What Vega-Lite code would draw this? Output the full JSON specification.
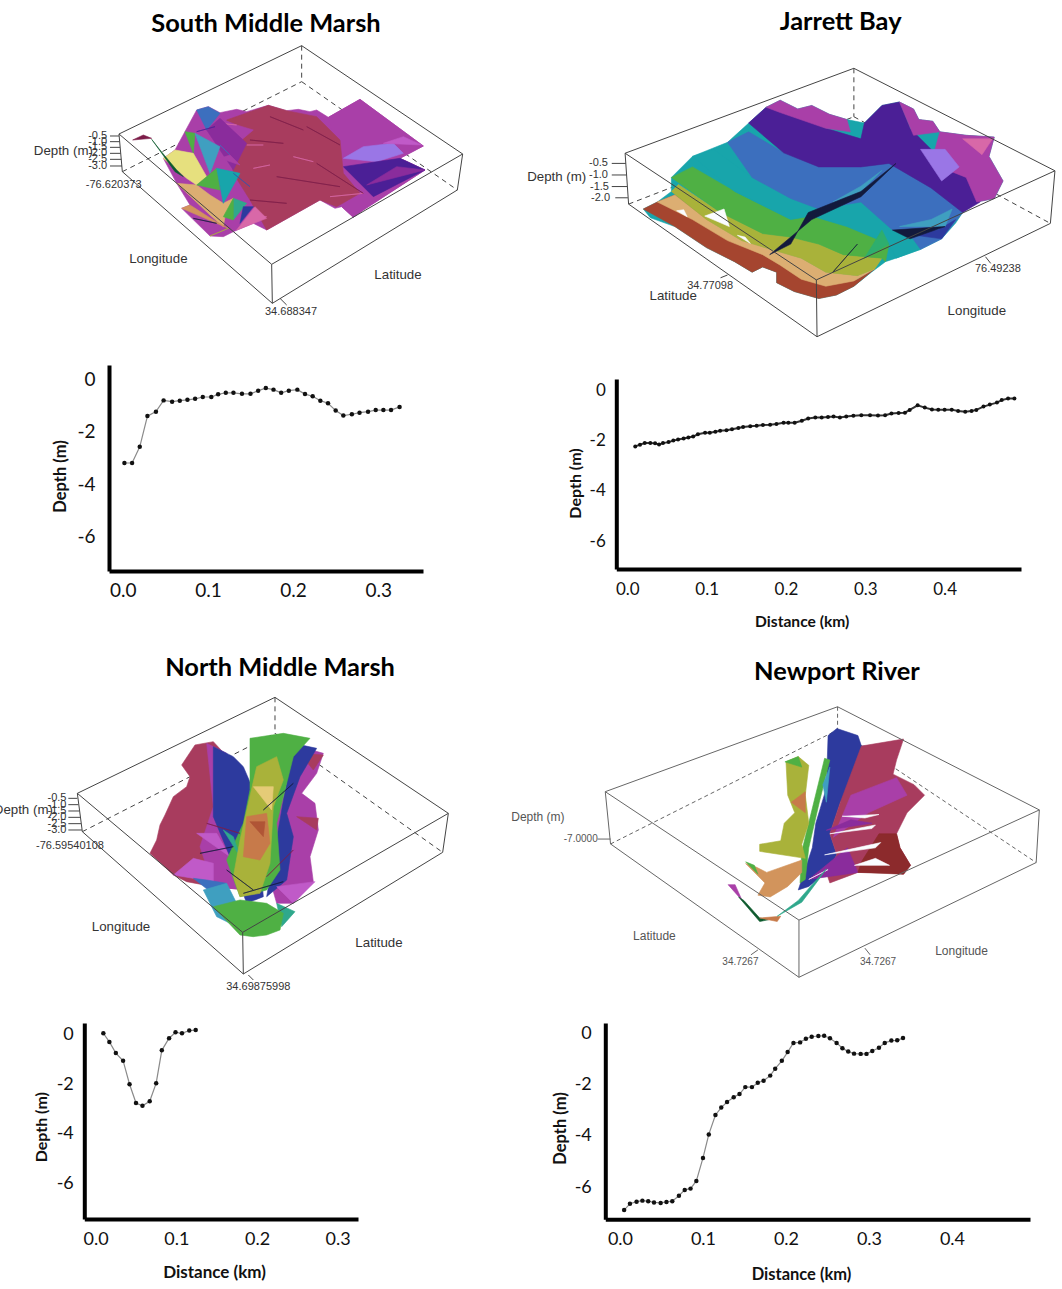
{
"$schema":"https://vega.github.io/schema/vega-lite/v6.json",
"padding":0,"background":"white","spacing":0,"bounds":"flush","columns":2,
"config":{"view":{"stroke":null},"axis":{"grid":false,"ticks":false,"domainColor":"black","labelColor":"#111","labelFont":"Lato","titleFont":"Lato","titleFontWeight":"bold","titleColor":"#111","titleBaseline":"middle","labelExpr":"replace(datum.label,'\u2212','-')"},"text":{"font":"Liberation Sans","color":"#333"}},
"concat":[
{"width":505,"height":345,"layer":[
{"data":{"values":[{"g":{"type":"MultiLineString","coordinates":[[[845,47],[845,155]],[[307,425],[845,155]],[[845,155],[1312,480]]]}}]},"mark":{"type":"geoshape","filled":false,"stroke":"#444","strokeWidth":1,"strokeDash":[5,4]},"projection":{"type":"identity","scale":0.33333,"translate":[20,30],"coefficient":1},"encoding":{"shape":{"field":"g","type":"geojson"}}},
{"data":{"values":[
{"d":13,"g":{"type":"Polygon","coordinates":[[[530,240],[565,230],[600,248],[650,238],[680,245],[745,226],[800,242],[835,238],[870,245],[890,240],[925,262],[1020,208],[1210,348],[1140,385],[1215,420],[1030,540],[1000,562],[965,530],[945,535],[900,510],[740,600],[700,580],[640,605],[610,620],[570,618],[485,535],[510,525],[470,460],[430,385],[465,360],[495,300]]]}},
{"d":13,"g":{"type":"Polygon","coordinates":[[[925,262],[1020,208],[1210,348],[1140,385],[1215,420],[1030,540],[1000,562],[965,530],[1000,480],[960,400],[930,300]]]}},
{"d":15,"g":{"type":"Polygon","coordinates":[[[970,385],[1030,350],[1120,340],[1150,370],[1070,395],[990,410]]]}},
{"d":14,"g":{"type":"Polygon","coordinates":[[[1090,340],[1150,320],[1205,345],[1140,375]]]}},
{"d":11,"g":{"type":"Polygon","coordinates":[[[970,410],[1140,385],[1215,420],[1060,500],[1010,470]]]}},
{"d":12,"g":{"type":"Polygon","coordinates":[[[1040,465],[1130,410],[1215,420],[1100,480]]]}},
{"d":17,"g":{"type":"Polygon","coordinates":[[[620,270],[745,226],[800,242],[890,260],[960,330],[970,430],[1020,490],[950,530],[900,510],[740,600],[690,510],[640,430],[610,340]]]}},
{"d":13,"g":{"type":"Polygon","coordinates":[[[600,265],[650,285],[700,300],[640,350],[610,340]]]}},
{"d":16,"g":{"type":"Polygon","coordinates":[[[680,345],[730,345],[700,315]]]}},
{"d":16,"g":{"type":"Polygon","coordinates":[[[700,415],[750,405],[730,385]]]}},
{"d":16,"g":{"type":"Polygon","coordinates":[[[930,500],[1030,490],[980,470]]]}},
{"d":16,"g":{"type":"Polygon","coordinates":[[[690,560],[740,560],[710,530]]]}},
{"d":16,"g":{"type":"Polygon","coordinates":[[[600,280],[650,285],[610,262]]]}},
{"d":16,"g":{"type":"Polygon","coordinates":[[[820,380],[880,395],[850,365]]]}},
{"d":18,"g":{"type":"Polygon","coordinates":[[[690,330],[790,340],[740,318]]]}},
{"d":18,"g":{"type":"Polygon","coordinates":[[[860,290],[960,345],[900,305]]]}},
{"d":18,"g":{"type":"Polygon","coordinates":[[[890,400],[1030,490],[960,420]]]}},
{"d":18,"g":{"type":"Polygon","coordinates":[[[770,440],[960,470],[860,430]]]}},
{"d":18,"g":{"type":"Polygon","coordinates":[[[690,510],[800,520],[740,500]]]}},
{"d":18,"g":{"type":"Polygon","coordinates":[[[750,260],[850,300],[790,270]]]}},
{"d":12,"g":{"type":"Polygon","coordinates":[[[560,300],[600,265],[680,340],[640,420],[600,345]]]}},
{"d":9,"g":{"type":"Polygon","coordinates":[[[530,240],[565,230],[600,250],[560,300],[495,300]]]}},
{"d":11,"g":{"type":"Polygon","coordinates":[[[530,305],[585,290],[550,310]]]}},
{"d":6,"g":{"type":"Polygon","coordinates":[[[495,305],[525,310],[520,370],[465,360]]]}},
{"d":8,"g":{"type":"Polygon","coordinates":[[[525,310],[600,350],[570,430],[515,390]]]}},
{"d":9,"g":{"type":"Polygon","coordinates":[[[600,345],[630,375],[570,430]]]}},
{"d":3,"g":{"type":"Polygon","coordinates":[[[470,460],[530,465],[570,495],[610,520],[640,505],[615,560],[610,590],[570,555],[510,525]]]}},
{"d":4,"g":{"type":"Polygon","coordinates":[[[430,385],[465,360],[520,370],[560,440],[530,465],[500,445],[470,460]]]}},
{"d":6,"g":{"type":"Polygon","coordinates":[[[530,465],[590,415],[600,480],[570,495]]]}},
{"d":7.5,"g":{"type":"Polygon","coordinates":[[[590,415],[660,430],[610,520],[570,495]]]}},
{"d":9.5,"g":{"type":"Polygon","coordinates":[[[640,430],[690,470],[620,520]]]}},
{"d":13,"g":{"type":"Polygon","coordinates":[[[600,385],[630,375],[660,405],[625,420]]]}},
{"d":7,"g":{"type":"Polygon","coordinates":[[[640,505],[680,520],[640,570],[615,560]]]}},
{"d":6,"g":{"type":"Polygon","coordinates":[[[610,560],[640,505],[640,570],[620,600]]]}},
{"d":10,"g":{"type":"Polygon","coordinates":[[[670,530],[700,530],[660,580],[640,575]]]}},
{"d":16,"g":{"type":"Polygon","coordinates":[[[650,600],[705,530],[740,565],[735,600]]]}},
{"d":2.5,"g":{"type":"Polygon","coordinates":[[[485,535],[510,525],[580,570],[625,595],[570,618]]]}},
{"d":5,"g":{"type":"Polygon","coordinates":[[[570,618],[625,595],[610,620]]]}},
{"d":18,"g":{"type":"Polygon","coordinates":[[[338,330],[370,315],[395,325],[365,345]]]}},
{"d":20,"g":{"type":"Polygon","coordinates":[[[395,328],[420,360],[470,420],[490,440],[465,425],[420,380]]]}},
{"d":21,"g":{"type":"Polygon","coordinates":[[[520,565],[590,580],[530,572]]]}}
]},"mark":{"type":"geoshape","strokeWidth":0.6},"projection":{"type":"identity","scale":0.33333,"translate":[20,30],"coefficient":1},"encoding":{"shape":{"field":"g","type":"geojson"},
"color":{"field":"d","type":"quantitative","legend":null,"scale":{"domain":[0,1,2,3,4,5,6,7,8,9,10,11,12,13,14,15,16,17,18,19,20,21,22],"range":["#6e2a1c","#a5452f","#c77a4a","#dcae72","#e6e07e","#a9b23a","#4fb044","#2fa88c","#3f9fc0","#3c6fbe","#2d3a9e","#4b1f96","#8a2c9c","#a93fa8","#c05ac8","#9a76e6","#d868a8","#a83c5e","#7c1c48","#8c2a2c","#0e5a2e","#121a3c","#ffffff"]}},
"stroke":{"field":"d","type":"quantitative","legend":null,"scale":{"domain":[0,1,2,3,4,5,6,7,8,9,10,11,12,13,14,15,16,17,18,19,20,21,22],"range":["#6e2a1c","#a5452f","#c77a4a","#dcae72","#e6e07e","#a9b23a","#4fb044","#2fa88c","#3f9fc0","#3c6fbe","#2d3a9e","#4b1f96","#8a2c9c","#a93fa8","#c05ac8","#9a76e6","#d868a8","#a83c5e","#7c1c48","#8c2a2c","#0e5a2e","#121a3c","#ffffff"]}}}},
{"data":{"values":[{"g":{"type":"MultiLineString","coordinates":[[[845,47],[297,312],[755,703],[1328,372],[845,47]],[[297,312],[307,425],[757,820],[1312,480],[1328,372]],[[755,703],[757,820]],[[270,318],[297,318]],[[270,335],[299,335]],[[270,352],[300,352]],[[270,370],[302,370]],[[270,388],[304,388]],[[270,408],[306,408]],[[780,805],[800,825]]]}}]},"mark":{"type":"geoshape","filled":false,"stroke":"#444","strokeWidth":1},"projection":{"type":"identity","scale":0.33333,"translate":[20,30],"coefficient":1},"encoding":{"shape":{"field":"g","type":"geojson"}}},
{"data":{"values":[
{"t":"-0.5","x":233,"y":318,"k":"tick"},{"t":"-1.0","x":233,"y":335,"k":"tick"},{"t":"-1.5","x":233,"y":352,"k":"tick"},{"t":"-2.0","x":233,"y":370,"k":"tick"},{"t":"-2.5","x":233,"y":388,"k":"tick"},{"t":"-3.0","x":233,"y":408,"k":"tick"},
{"t":"-76.620373","x":281,"y":466,"k":"tick"},{"t":"34.688347","x":813,"y":846,"k":"tick"},
{"t":"Depth (m)","x":130,"y":362,"k":"name"},{"t":"Longitude","x":415,"y":688,"k":"name"},{"t":"Latitude","x":1134,"y":734,"k":"name"},
{"t":"South Middle Marsh","x":738,"y":-18,"k":"head"}]},
"encoding":{"x":{"field":"x","type":"quantitative","axis":null,"scale":{"domain":[0,1410],"range":[20,490]}},"y":{"field":"y","type":"quantitative","axis":null,"scale":{"domain":[0,930],"range":[30,340]}},"text":{"field":"t"}},
"layer":[{"transform":[{"filter":"datum.k=='tick'"}],"mark":{"type":"text","fontSize":11}},{"transform":[{"filter":"datum.k=='name'"}],"mark":{"type":"text","fontSize":13.3}},{"transform":[{"filter":"datum.k=='head'"}],"mark":{"type":"text","fontSize":25.4,"font":"Lato","fontWeight":"bold","color":"#000"}}]}
]},
{"width":557,"height":345,"layer":[
{"data":{"values":[{"g":{"type":"MultiLineString","coordinates":[[[980,59],[980,197]],[[338,446],[980,197]],[[980,197],[1540,501]]]}}]},"mark":{"type":"geoshape","filled":false,"stroke":"#444","strokeWidth":1,"strokeDash":[5,4]},"projection":{"type":"identity","scale":0.3509,"translate":[5,47.6],"coefficient":2},"encoding":{"shape":{"field":"g","type":"geojson"}}},
{"data":{"values":[
{"d":7.5,"g":{"type":"Polygon","coordinates":[[[730,170],[770,150],[820,175],[860,165],[910,190],[960,205],[1010,215],[1060,165],[1110,155],[1150,175],[1165,205],[1205,210],[1225,240],[1300,250],[1380,255],[1365,310],[1405,380],[1380,430],[1330,440],[1290,470],[1270,500],[1230,545],[1170,575],[1100,600],[1070,610],[1030,640],[980,680],[930,705],[880,715],[810,695],[760,670],[760,640],[720,625],[690,640],[640,610],[560,570],[470,510],[400,485],[380,460],[420,440],[460,410],[460,370],[520,310],[620,270],[680,215]]]}},
{"d":1,"g":{"type":"Polygon","coordinates":[[[380,460],[420,440],[470,420],[560,490],[660,560],[760,600],[830,620],[900,650],[990,660],[1040,630],[980,680],[930,705],[880,715],[810,695],[760,670],[760,640],[720,625],[690,640],[640,610],[560,570],[470,510],[400,485]]]}},
{"d":3,"g":{"type":"Polygon","coordinates":[[[420,440],[470,420],[560,490],[660,550],[760,580],[830,600],[900,640],[990,650],[1040,630],[980,665],[900,680],[830,660],[770,620],[720,590],[620,550],[520,490],[440,450]]]}},
{"d":5,"g":{"type":"Polygon","coordinates":[[[460,410],[480,390],[600,470],[720,530],[800,540],[880,560],[950,590],[1060,600],[1040,630],[990,650],[900,640],[830,600],[760,580],[660,550],[560,490],[470,420]]]}},
{"d":6,"g":{"type":"Polygon","coordinates":[[[460,370],[520,340],[640,410],[740,460],[800,490],[860,480],[960,510],[1080,560],[1070,610],[1060,600],[950,590],[880,560],[800,540],[720,530],[600,470],[480,390]]]}},
{"d":7.5,"g":{"type":"Polygon","coordinates":[[[520,310],[580,290],[690,370],[800,430],[880,460],[1000,440],[1090,520],[1130,520],[1170,575],[1100,600],[1080,560],[960,510],[860,480],[800,490],[740,460],[640,410],[520,340]]]}},
{"d":9,"g":{"type":"Polygon","coordinates":[[[620,270],[680,240],[780,300],[880,340],[1000,340],[1080,330],[1200,400],[1290,470],[1230,545],[1170,575],[1130,520],[1090,520],[1000,440],[880,460],[800,430],[690,370],[580,290]]]}},
{"d":10,"g":{"type":"Polygon","coordinates":[[[1120,530],[1220,520],[1270,490],[1230,545],[1170,575]]]}},
{"d":11,"g":{"type":"Polygon","coordinates":[[[680,215],[730,170],[770,175],[900,230],[1000,260],[1010,215],[1060,165],[1110,155],[1140,230],[1200,290],[1290,330],[1340,440],[1290,470],[1200,400],[1080,330],[1000,340],[880,340],[780,300],[680,240]]]}},
{"d":13,"g":{"type":"Polygon","coordinates":[[[730,170],[770,150],[820,175],[860,165],[910,190],[960,205],[970,240],[900,230],[770,185],[720,200]]]}},
{"d":13,"g":{"type":"Polygon","coordinates":[[[1110,155],[1150,175],[1165,205],[1205,210],[1225,240],[1150,250],[1120,210]]]}},
{"d":13,"g":{"type":"Polygon","coordinates":[[[1225,240],[1300,250],[1380,255],[1365,310],[1405,380],[1380,430],[1330,440],[1300,370],[1200,330],[1170,290]]]}},
{"d":16,"g":{"type":"Polygon","coordinates":[[[1290,260],[1375,260],[1345,305],[1290,300]]]}},
{"d":15,"g":{"type":"Polygon","coordinates":[[[1170,290],[1240,290],[1280,340],[1230,380],[1190,350]]]}},
{"d":8,"g":{"type":"Polygon","coordinates":[[[920,440],[1000,395],[1060,350],[1000,410],[935,450]]]}},
{"d":21,"g":{"type":"Polygon","coordinates":[[[740,590],[800,560],[850,470],[1000,410],[1100,330],[1000,425],[860,490],[800,575]]]}},
{"d":8,"g":{"type":"Polygon","coordinates":[[[1110,510],[1200,490],[1260,460],[1240,510],[1150,540]]]}},
{"d":21,"g":{"type":"Polygon","coordinates":[[[1090,520],[1140,545],[1240,510],[1150,535]]]}},
{"d":21,"g":{"type":"Polygon","coordinates":[[[920,640],[990,560],[950,620]]]}},
{"d":6.5,"g":{"type":"Polygon","coordinates":[[[1010,600],[1060,520],[1080,560],[1040,600]]]}},
{"d":22,"g":{"type":"Polygon","coordinates":[[[475,465],[495,462],[505,482],[485,480]]]}},
{"d":22,"g":{"type":"Polygon","coordinates":[[[555,480],[610,460],[625,510],[570,505]]]}},
{"d":22,"g":{"type":"Polygon","coordinates":[[[648,535],[670,540],[685,558],[660,550]]]}}
]},"mark":{"type":"geoshape","strokeWidth":0.6},"projection":{"type":"identity","scale":0.3509,"translate":[5,47.6],"coefficient":2},"encoding":{"shape":{"field":"g","type":"geojson"},
"color":{"field":"d","type":"quantitative","legend":null,"scale":{"domain":[0,1,2,3,4,5,6,7,8,9,10,11,12,13,14,15,16,17,18,19,20,21,22],"range":["#6e2a1c","#a5452f","#c77a4a","#dcae72","#e6e07e","#a9b23a","#4fb044","#2fa88c","#3f9fc0","#3c6fbe","#2d3a9e","#4b1f96","#8a2c9c","#a93fa8","#c05ac8","#9a76e6","#d868a8","#a83c5e","#7c1c48","#8c2a2c","#0e5a2e","#121a3c","#ffffff"]}},
"stroke":{"field":"d","type":"quantitative","legend":null,"scale":{"domain":[0,1,2,3,4,5,6,7,8,9,10,11,12,13,14,15,16,17,18,19,20,21,22],"range":["#6e2a1c","#a5452f","#c77a4a","#dcae72","#e6e07e","#a9b23a","#4fb044","#2fa88c","#3f9fc0","#3c6fbe","#2d3a9e","#4b1f96","#8a2c9c","#a93fa8","#c05ac8","#9a76e6","#d868a8","#a83c5e","#7c1c48","#8c2a2c","#0e5a2e","#121a3c","#ffffff"]}}}},
{"data":{"values":[{"g":{"type":"MultiLineString","coordinates":[[[980,59],[328,301],[873,662],[1553,351],[980,59]],[[328,301],[338,446],[875,824],[1540,501],[1553,351]],[[873,662],[875,824]],[[290,330],[330,330]],[[290,363],[332,363]],[[290,396],[334,396]],[[300,428],[336,428]],[[600,656],[620,648]],[[1355,596],[1370,615]]]}}]},"mark":{"type":"geoshape","filled":false,"stroke":"#444","strokeWidth":1},"projection":{"type":"identity","scale":0.3509,"translate":[5,47.6],"coefficient":2},"encoding":{"shape":{"field":"g","type":"geojson"}}},
{"data":{"values":[
{"t":"-0.5","x":252,"y":325,"k":"tick"},{"t":"-1.0","x":252,"y":360,"k":"tick"},{"t":"-1.5","x":255,"y":395,"k":"tick"},{"t":"-2.0","x":258,"y":428,"k":"tick"},
{"t":"34.77098","x":570,"y":693,"k":"tick"},{"t":"76.49238","x":1390,"y":642,"k":"tick"},
{"t":"Depth (m)","x":133,"y":366,"k":"name"},{"t":"Latitude","x":465,"y":722,"k":"name"},{"t":"Longitude","x":1330,"y":768,"k":"name"},
{"t":"Jarrett Bay","x":942,"y":-99,"k":"head"}]},
"encoding":{"x":{"field":"x","type":"quantitative","axis":null,"scale":{"domain":[0,1567],"range":[5,555]}},"y":{"field":"y","type":"quantitative","axis":null,"scale":{"domain":[0,870],"range":[55,345]}},"text":{"field":"t"}},
"layer":[{"transform":[{"filter":"datum.k=='tick'"}],"mark":{"type":"text","fontSize":11}},{"transform":[{"filter":"datum.k=='name'"}],"mark":{"type":"text","fontSize":13.3}},{"transform":[{"filter":"datum.k=='head'"}],"mark":{"type":"text","fontSize":25.4,"font":"Lato","fontWeight":"bold","color":"#000"}}]}
]},
{"width":505,"height":305,"data":{"values":[{"d":0.002,"v":-3.19},{"d":0.011,"v":-3.19},{"d":0.02,"v":-2.57},{"d":0.029,"v":-1.4},{"d":0.039,"v":-1.23},{"d":0.048,"v":-0.8},{"d":0.058,"v":-0.85},{"d":0.067,"v":-0.81},{"d":0.076,"v":-0.78},{"d":0.085,"v":-0.74},{"d":0.094,"v":-0.67},{"d":0.104,"v":-0.67},{"d":0.112,"v":-0.57},{"d":0.121,"v":-0.51},{"d":0.13,"v":-0.51},{"d":0.14,"v":-0.55},{"d":0.15,"v":-0.55},{"d":0.159,"v":-0.43},{"d":0.168,"v":-0.33},{"d":0.177,"v":-0.39},{"d":0.186,"v":-0.51},{"d":0.195,"v":-0.43},{"d":0.205,"v":-0.39},{"d":0.214,"v":-0.56},{"d":0.223,"v":-0.64},{"d":0.232,"v":-0.81},{"d":0.241,"v":-0.91},{"d":0.25,"v":-1.19},{"d":0.259,"v":-1.38},{"d":0.269,"v":-1.33},{"d":0.278,"v":-1.27},{"d":0.288,"v":-1.23},{"d":0.297,"v":-1.17},{"d":0.306,"v":-1.17},{"d":0.315,"v":-1.17},{"d":0.325,"v":-1.05}]},
"encoding":{"x":{"field":"d","type":"quantitative","scale":{"domain":[-0.0161,0.3525],"range":[109,423],"nice":false,"zero":false},"axis":{"title":null,"values":[0,0.1,0.2,0.3],"format":".1f","offset":-79,"domainWidth":4,"labelFontSize":19,"labelPadding":10}},"y":{"field":"v","type":"quantitative","scale":{"domain":[-7.31,0.55],"range":[226,20],"nice":false,"zero":false},"axis":{"title":"Depth (m)","values":[-6,-4,-2,0],"format":"d","offset":-109,"domainWidth":4,"labelFontSize":19,"labelPadding":14,"titleFontSize":16.5,"titleX":-49,"titleY":131}}},
"layer":[{"mark":{"type":"line","stroke":"#8a8a8a","strokeWidth":1.2}},{"mark":{"type":"point","filled":true,"color":"#111","opacity":1,"size":20}}]},
{"width":557,"height":305,"data":{"values":[{"d":0.01,"v":-2.24},{"d":0.016,"v":-2.17},{"d":0.022,"v":-2.11},{"d":0.029,"v":-2.11},{"d":0.035,"v":-2.12},{"d":0.04,"v":-2.16},{"d":0.045,"v":-2.11},{"d":0.052,"v":-2.07},{"d":0.058,"v":-2.01},{"d":0.064,"v":-1.97},{"d":0.071,"v":-1.93},{"d":0.077,"v":-1.89},{"d":0.083,"v":-1.85},{"d":0.089,"v":-1.76},{"d":0.098,"v":-1.7},{"d":0.104,"v":-1.7},{"d":0.111,"v":-1.66},{"d":0.117,"v":-1.62},{"d":0.125,"v":-1.6},{"d":0.132,"v":-1.56},{"d":0.14,"v":-1.51},{"d":0.146,"v":-1.47},{"d":0.155,"v":-1.44},{"d":0.163,"v":-1.42},{"d":0.171,"v":-1.39},{"d":0.18,"v":-1.38},{"d":0.188,"v":-1.35},{"d":0.197,"v":-1.3},{"d":0.203,"v":-1.3},{"d":0.211,"v":-1.3},{"d":0.22,"v":-1.22},{"d":0.228,"v":-1.13},{"d":0.237,"v":-1.09},{"d":0.245,"v":-1.09},{"d":0.253,"v":-1.07},{"d":0.26,"v":-1.05},{"d":0.268,"v":-1.09},{"d":0.276,"v":-1.05},{"d":0.285,"v":-1.02},{"d":0.295,"v":-1},{"d":0.306,"v":-1},{"d":0.316,"v":-1.01},{"d":0.325,"v":-1},{"d":0.333,"v":-0.93},{"d":0.342,"v":-0.91},{"d":0.35,"v":-0.9},{"d":0.356,"v":-0.79},{"d":0.366,"v":-0.61},{"d":0.375,"v":-0.7},{"d":0.384,"v":-0.77},{"d":0.392,"v":-0.78},{"d":0.4,"v":-0.78},{"d":0.409,"v":-0.78},{"d":0.417,"v":-0.83},{"d":0.426,"v":-0.86},{"d":0.434,"v":-0.83},{"d":0.44,"v":-0.79},{"d":0.449,"v":-0.66},{"d":0.457,"v":-0.58},{"d":0.466,"v":-0.5},{"d":0.472,"v":-0.4},{"d":0.48,"v":-0.34},{"d":0.488,"v":-0.34}]},
"encoding":{"x":{"field":"d","type":"quantitative","scale":{"domain":[-0.0139,0.4963],"range":[111.3,516],"nice":false,"zero":false},"axis":{"title":"Distance (km)","values":[0,0.1,0.2,0.3,0.4],"format":".1f","offset":-81,"domainWidth":4,"labelFontSize":17,"labelPadding":12,"titleFontSize":15.6,"titleX":296.7,"titleY":52}},"y":{"field":"v","type":"quantitative","scale":{"domain":[-7.11,0.437],"range":[224,34],"nice":false,"zero":false},"axis":{"title":"Depth (m)","values":[-6,-4,-2,0],"format":"d","offset":-111.3,"domainWidth":4,"labelFontSize":17,"labelPadding":11,"titleFontSize":16,"titleX":-41,"titleY":138}}},
"layer":[{"mark":{"type":"line","stroke":"#333","strokeWidth":2}},{"mark":{"type":"point","filled":true,"color":"#111","opacity":1,"size":16}}]},
{"width":505,"height":360,"layer":[
{"data":{"values":[{"g":{"type":"MultiLineString","coordinates":[[[825,22],[825,130]],[[247,425],[825,130]],[[825,130],[1328,487]]]}}]},"mark":{"type":"geoshape","filled":false,"stroke":"#444","strokeWidth":1,"strokeDash":[5,4]},"projection":{"type":"identity","scale":0.33333,"translate":[0,40],"coefficient":3},"encoding":{"shape":{"field":"g","type":"geojson"}}},
{"data":{"values":[
{"d":17,"g":{"type":"Polygon","coordinates":[[[585,165],[640,155],[700,220],[740,400],[740,600],[640,590],[560,575],[520,555],[450,490],[470,450],[480,405],[495,375],[520,320],[560,290],[570,260],[545,225],[540,195]]]}},
{"d":13,"g":{"type":"Polygon","coordinates":[[[620,160],[680,190],[740,400],[740,600],[640,590],[600,470],[640,350],[610,250]]]}},
{"d":13,"g":{"type":"Polygon","coordinates":[[[900,170],[970,190],[950,250],[905,310],[945,340],[955,420],[930,500],[940,575],[880,640],[830,640],[790,500],[850,300]]]}},
{"d":17,"g":{"type":"Polygon","coordinates":[[[900,190],[970,195],[940,240],[890,250]]]}},
{"d":17,"g":{"type":"Polygon","coordinates":[[[890,380],[955,385],[950,420],[880,420]]]}},
{"d":14,"g":{"type":"Polygon","coordinates":[[[590,430],[650,430],[690,500],[640,510]]]}},
{"d":14,"g":{"type":"Polygon","coordinates":[[[520,555],[580,505],[640,520],[640,575],[565,575]]]}},
{"d":10,"g":{"type":"Polygon","coordinates":[[[640,170],[700,200],[730,230],[760,300],[770,400],[790,620],[740,640],[690,500],[640,380],[680,300]]]}},
{"d":10,"g":{"type":"Polygon","coordinates":[[[880,160],[950,175],[900,260],[860,370],[880,440],[860,570],[800,620],[790,400]]]}},
{"d":6,"g":{"type":"Polygon","coordinates":[[[750,145],[850,130],[930,145],[880,200],[860,280],[830,400],[840,540],[800,600],[720,620],[680,510],[730,400],[750,300],[740,220]]]}},
{"d":7,"g":{"type":"Polygon","coordinates":[[[670,420],[700,440],[720,500],[690,510]]]}},
{"d":5,"g":{"type":"Polygon","coordinates":[[[770,230],[830,200],[850,270],[820,350],[810,520],[780,610],[720,620],[700,560],[720,450],[760,330]]]}},
{"d":3.6,"g":{"type":"Polygon","coordinates":[[[760,290],[820,290],[815,360],[740,370]]]}},
{"d":2,"g":{"type":"Polygon","coordinates":[[[740,380],[800,370],[810,460],[780,510],[730,500],[730,430]]]}},
{"d":1.3,"g":{"type":"Polygon","coordinates":[[[750,395],[795,395],[790,440],[755,440]]]}},
{"d":9,"g":{"type":"Polygon","coordinates":[[[580,565],[620,570],[680,580],[650,620],[610,620]]]}},
{"d":8,"g":{"type":"Polygon","coordinates":[[[610,600],[680,580],[710,640],[690,700],[650,680],[615,625]]]}},
{"d":14,"g":{"type":"Polygon","coordinates":[[[830,590],[945,575],[880,640],[830,640]]]}},
{"d":7,"g":{"type":"Polygon","coordinates":[[[830,640],[885,665],[845,710],[800,680]]]}},
{"d":6,"g":{"type":"Polygon","coordinates":[[[640,650],[720,630],[800,640],[850,670],[840,720],[800,735],[760,740],[720,735],[690,715]]]}},
{"d":21,"g":{"type":"Polygon","coordinates":[[[600,490],[700,470],[680,500]]]}},
{"d":21,"g":{"type":"Polygon","coordinates":[[[850,575],[730,610],[830,600]]]}},
{"d":18,"g":{"type":"Polygon","coordinates":[[[620,400],[720,430],[650,420]]]}},
{"d":21,"g":{"type":"Polygon","coordinates":[[[880,280],[790,360],[860,300]]]}},
{"d":21,"g":{"type":"Polygon","coordinates":[[[680,540],[760,600],[720,590]]]}},
{"d":18,"g":{"type":"Polygon","coordinates":[[[880,480],[800,560],[860,510]]]}}
]},"mark":{"type":"geoshape","strokeWidth":0.6},"projection":{"type":"identity","scale":0.33333,"translate":[0,40],"coefficient":3},"encoding":{"shape":{"field":"g","type":"geojson"},
"color":{"field":"d","type":"quantitative","legend":null,"scale":{"domain":[0,1,2,3,4,5,6,7,8,9,10,11,12,13,14,15,16,17,18,19,20,21,22],"range":["#6e2a1c","#a5452f","#c77a4a","#dcae72","#e6e07e","#a9b23a","#4fb044","#2fa88c","#3f9fc0","#3c6fbe","#2d3a9e","#4b1f96","#8a2c9c","#a93fa8","#c05ac8","#9a76e6","#d868a8","#a83c5e","#7c1c48","#8c2a2c","#0e5a2e","#121a3c","#ffffff"]}},
"stroke":{"field":"d","type":"quantitative","legend":null,"scale":{"domain":[0,1,2,3,4,5,6,7,8,9,10,11,12,13,14,15,16,17,18,19,20,21,22],"range":["#6e2a1c","#a5452f","#c77a4a","#dcae72","#e6e07e","#a9b23a","#4fb044","#2fa88c","#3f9fc0","#3c6fbe","#2d3a9e","#4b1f96","#8a2c9c","#a93fa8","#c05ac8","#9a76e6","#d868a8","#a83c5e","#7c1c48","#8c2a2c","#0e5a2e","#121a3c","#ffffff"]}}}},
{"data":{"values":[{"g":{"type":"MultiLineString","coordinates":[[[825,22],[232,310],[728,727],[1345,370],[825,22]],[[232,310],[247,425],[730,852],[1328,487],[1345,370]],[[728,727],[730,852]],[[205,325],[232,325]],[[205,344],[235,344]],[[205,363],[238,363]],[[205,382],[240,382]],[[205,401],[243,401]],[[205,420],[246,420]],[[745,855],[760,870]]]}}]},"mark":{"type":"geoshape","filled":false,"stroke":"#444","strokeWidth":1},"projection":{"type":"identity","scale":0.33333,"translate":[0,40],"coefficient":3},"encoding":{"shape":{"field":"g","type":"geojson"}}},
{"data":{"values":[
{"t":"-0.5","x":171,"y":325,"k":"tick"},{"t":"-1.0","x":171,"y":344,"k":"tick"},{"t":"-1.5","x":171,"y":363,"k":"tick"},{"t":"-2.0","x":171,"y":382,"k":"tick"},{"t":"-2.5","x":171,"y":401,"k":"tick"},{"t":"-3.0","x":171,"y":420,"k":"tick"},
{"t":"-76.59540108","x":210,"y":467,"k":"tick"},{"t":"34.69875998","x":775,"y":892,"k":"tick"},
{"t":"Longitude","x":363,"y":712,"k":"name"},{"t":"Latitude","x":1137,"y":760,"k":"name"},
{"t":"North Middle Marsh","x":840,"y":-66,"k":"head"}]},
"encoding":{"x":{"field":"x","type":"quantitative","axis":null,"scale":{"domain":[0,1380],"range":[0,460]}},"y":{"field":"y","type":"quantitative","axis":null,"scale":{"domain":[0,930],"range":[40,350]}},"text":{"field":"t"}},
"layer":[{"transform":[{"filter":"datum.k=='tick'"}],"mark":{"type":"text","fontSize":11}},{"transform":[{"filter":"datum.k=='name'"}],"mark":{"type":"text","fontSize":13.3}},{"transform":[{"filter":"datum.k=='head'"}],"mark":{"type":"text","fontSize":25.4,"font":"Lato","fontWeight":"bold","color":"#000"}}]},
{"data":{"values":[{"t":"Depth (m)","x":70,"y":360}]},"mark":{"type":"text","fontSize":13.3,"clip":true},"encoding":{"x":{"field":"x","type":"quantitative","axis":null,"scale":{"domain":[0,1380],"range":[0,460]}},"y":{"field":"y","type":"quantitative","axis":null,"scale":{"domain":[0,930],"range":[40,350]}},"text":{"field":"t"}}}
]},
{"width":557,"height":360,"layer":[
{"data":{"values":[{"g":{"type":"MultiLineString","coordinates":[[[962,68],[962,134]],[[315,459],[962,134]],[[962,134],[1528,512]]]}}]},"mark":{"type":"geoshape","filled":false,"stroke":"#666","strokeWidth":1,"strokeDash":[4,3]},"projection":{"type":"identity","scale":0.3509,"translate":[-5,32.9],"coefficient":4},"encoding":{"shape":{"field":"g","type":"geojson"}}},
{"data":{"values":[
{"d":10,"g":{"type":"Polygon","coordinates":[[[935,150],[960,130],[1020,150],[1030,180],[1090,180],[1050,250],[970,340],[940,430],[960,490],[930,540],[880,580],[850,590],[890,470],[900,400],[930,300],[945,220]]]}},
{"d":17,"g":{"type":"Polygon","coordinates":[[[1030,180],[1150,160],[1130,220],[1120,260],[1180,290],[1210,320],[1160,370],[1130,430],[1140,470],[1170,520],[1150,545],[1100,540],[1020,540],[940,570],[930,540],[960,490],[940,430],[970,340],[1050,250]]]}},
{"d":13,"g":{"type":"Polygon","coordinates":[[[1000,320],[1130,270],[1160,320],[1050,370],[950,440],[940,400]]]}},
{"d":12,"g":{"type":"Polygon","coordinates":[[[930,420],[1000,390],[1060,400],[960,470]]]}},
{"d":12,"g":{"type":"Polygon","coordinates":[[[880,560],[990,470],[1020,540],[940,570]]]}},
{"d":19,"g":{"type":"Polygon","coordinates":[[[1080,430],[1130,430],[1140,470],[1170,520],[1150,545],[1020,540],[1030,510],[1110,490]]]}},
{"d":22,"g":{"type":"Polygon","coordinates":[[[975,380],[1080,375],[1040,385],[980,390]]]}},
{"d":22,"g":{"type":"Polygon","coordinates":[[[940,430],[1070,405],[1060,415],[960,440]]]}},
{"d":22,"g":{"type":"Polygon","coordinates":[[[925,490],[1085,455],[1070,470],[940,495]]]}},
{"d":22,"g":{"type":"Polygon","coordinates":[[[1010,520],[1070,500],[1110,520],[1050,525]]]}},
{"d":22,"g":{"type":"Polygon","coordinates":[[[880,560],[935,532],[900,550]]]}},
{"d":6,"g":{"type":"Polygon","coordinates":[[[925,215],[940,220],[910,340],[880,470],[870,560],[855,570],[860,480],[880,380]]]}},
{"d":8,"g":{"type":"Polygon","coordinates":[[[920,290],[940,240],[930,340],[905,390]]]}},
{"d":5,"g":{"type":"Polygon","coordinates":[[[815,225],[850,210],[880,235],[870,320],[880,400],[860,460],[870,500],[740,480],[740,460],[800,450],[810,400],[840,370],[820,320],[825,260]]]}},
{"d":6,"g":{"type":"Polygon","coordinates":[[[812,225],[850,210],[860,240],[825,245]]]}},
{"d":2,"g":{"type":"Polygon","coordinates":[[[830,340],[870,310],[870,370],[840,375]]]}},
{"d":2.5,"g":{"type":"Polygon","coordinates":[[[700,515],[730,525],[760,540],[860,505],[860,540],[820,580],[770,610],[735,605],[755,570],[720,550]]]}},
{"d":6,"g":{"type":"Polygon","coordinates":[[[700,510],[725,520],[735,545],[710,530]]]}},
{"d":13,"g":{"type":"Polygon","coordinates":[[[650,575],[670,575],[690,620],[680,625]]]}},
{"d":20,"g":{"type":"Polygon","coordinates":[[[680,610],[695,620],[740,670],[765,675],[740,680],[700,650]]]}},
{"d":2,"g":{"type":"Polygon","coordinates":[[[740,670],[800,665],[790,680],[760,690]]]}},
{"d":7,"g":{"type":"Polygon","coordinates":[[[790,665],[850,620],[885,580],[930,530],[905,565],[860,625],[800,680]]]}}
]},"mark":{"type":"geoshape","strokeWidth":0.6},"projection":{"type":"identity","scale":0.3509,"translate":[-5,32.9],"coefficient":4},"encoding":{"shape":{"field":"g","type":"geojson"},
"color":{"field":"d","type":"quantitative","legend":null,"scale":{"domain":[0,1,2,3,4,5,6,7,8,9,10,11,12,13,14,15,16,17,18,19,20,21,22],"range":["#6e2a1c","#a5452f","#c77a4a","#dcae72","#e6e07e","#a9b23a","#4fb044","#2fa88c","#3f9fc0","#3c6fbe","#2d3a9e","#4b1f96","#8a2c9c","#a93fa8","#c05ac8","#9a76e6","#d868a8","#a83c5e","#7c1c48","#8c2a2c","#0e5a2e","#121a3c","#ffffff"]}},
"stroke":{"field":"d","type":"quantitative","legend":null,"scale":{"domain":[0,1,2,3,4,5,6,7,8,9,10,11,12,13,14,15,16,17,18,19,20,21,22],"range":["#6e2a1c","#a5452f","#c77a4a","#dcae72","#e6e07e","#a9b23a","#4fb044","#2fa88c","#3f9fc0","#3c6fbe","#2d3a9e","#4b1f96","#8a2c9c","#a93fa8","#c05ac8","#9a76e6","#d868a8","#a83c5e","#7c1c48","#8c2a2c","#0e5a2e","#121a3c","#ffffff"]}}}},
{"data":{"values":[{"g":{"type":"MultiLineString","coordinates":[[[962,68],[300,310],[852,676],[1537,362],[962,68]],[[300,310],[315,459],[852,839],[1528,512],[1537,362]],[[852,676],[852,839]],[[278,445],[315,445]],[[715,775],[735,761]],[[1040,756],[1055,775]]]}}]},"mark":{"type":"geoshape","filled":false,"stroke":"#666","strokeWidth":1},"projection":{"type":"identity","scale":0.3509,"translate":[-5,32.9],"coefficient":4},"encoding":{"shape":{"field":"g","type":"geojson"}}},
{"data":{"values":[
{"t":"-7.0000","x":230,"y":447,"k":"tick"},{"t":"34.7267","x":685,"y":815,"k":"tick"},{"t":"34.7267","x":1077,"y":815,"k":"tick"},
{"t":"Depth (m)","x":108,"y":380,"k":"name"},{"t":"Latitude","x":440,"y":738,"k":"name"},{"t":"Longitude","x":1315,"y":784,"k":"name"},
{"t":"Newport River","x":960,"y":-54,"k":"head"}]},
"encoding":{"x":{"field":"x","type":"quantitative","axis":null,"scale":{"domain":[0,1567],"range":[-5,545]}},"y":{"field":"y","type":"quantitative","axis":null,"scale":{"domain":[0,900],"range":[40,340]}},"text":{"field":"t"}},
"layer":[{"transform":[{"filter":"datum.k=='tick'"}],"mark":{"type":"text","fontSize":10,"color":"#555"}},{"transform":[{"filter":"datum.k=='name'"}],"mark":{"type":"text","fontSize":12,"color":"#555"}},{"transform":[{"filter":"datum.k=='head'"}],"mark":{"type":"text","fontSize":25.4,"font":"Lato","fontWeight":"bold","color":"#000"}}]}
]},
{"width":505,"height":279,"data":{"values":[{"d":0.0095,"v":0.07},{"d":0.017,"v":-0.28},{"d":0.025,"v":-0.73},{"d":0.034,"v":-1.04},{"d":0.042,"v":-1.99},{"d":0.05,"v":-2.75},{"d":0.058,"v":-2.86},{"d":0.067,"v":-2.68},{"d":0.075,"v":-1.95},{"d":0.082,"v":-0.62},{"d":0.091,"v":-0.13},{"d":0.099,"v":0.11},{"d":0.107,"v":0.07},{"d":0.116,"v":0.18},{"d":0.124,"v":0.2}]},
"encoding":{"x":{"field":"d","type":"quantitative","scale":{"domain":[-0.0141,0.3252],"range":[84.3,358],"nice":false,"zero":false},"axis":{"title":"Distance (km)","values":[0,0.1,0.2,0.3],"format":".1f","offset":-70,"domainWidth":4,"labelFontSize":18,"labelPadding":11,"titleFontSize":17,"titleX":214,"titleY":53}},"y":{"field":"v","type":"quantitative","scale":{"domain":[-7.44,0.485],"range":[209,13],"nice":false,"zero":false},"axis":{"title":"Depth (m)","values":[-6,-4,-2,0],"format":"d","offset":-84.3,"domainWidth":4,"labelFontSize":18,"labelPadding":11,"titleFontSize":16,"titleX":-42.6,"titleY":116.7}}},
"layer":[{"mark":{"type":"line","stroke":"#8a8a8a","strokeWidth":1.2}},{"mark":{"type":"point","filled":true,"color":"#111","opacity":1,"size":20}}]},
{"width":557,"height":279,"data":{"values":[{"d":0.005,"v":-6.9},{"d":0.012,"v":-6.65},{"d":0.02,"v":-6.57},{"d":0.027,"v":-6.53},{"d":0.034,"v":-6.55},{"d":0.041,"v":-6.6},{"d":0.049,"v":-6.62},{"d":0.056,"v":-6.58},{"d":0.063,"v":-6.55},{"d":0.071,"v":-6.34},{"d":0.078,"v":-6.11},{"d":0.085,"v":-6.06},{"d":0.092,"v":-5.76},{"d":0.1,"v":-4.86},{"d":0.107,"v":-3.94},{"d":0.115,"v":-3.18},{"d":0.122,"v":-2.89},{"d":0.129,"v":-2.67},{"d":0.137,"v":-2.49},{"d":0.144,"v":-2.36},{"d":0.151,"v":-2.09},{"d":0.159,"v":-2.09},{"d":0.166,"v":-1.92},{"d":0.173,"v":-1.84},{"d":0.181,"v":-1.64},{"d":0.187,"v":-1.37},{"d":0.195,"v":-1.06},{"d":0.202,"v":-0.72},{"d":0.209,"v":-0.36},{"d":0.217,"v":-0.34},{"d":0.224,"v":-0.2},{"d":0.231,"v":-0.12},{"d":0.239,"v":-0.09},{"d":0.246,"v":-0.08},{"d":0.253,"v":-0.18},{"d":0.261,"v":-0.36},{"d":0.268,"v":-0.57},{"d":0.275,"v":-0.7},{"d":0.282,"v":-0.78},{"d":0.29,"v":-0.79},{"d":0.297,"v":-0.79},{"d":0.304,"v":-0.68},{"d":0.312,"v":-0.55},{"d":0.319,"v":-0.36},{"d":0.327,"v":-0.27},{"d":0.334,"v":-0.26},{"d":0.341,"v":-0.17}]},
"encoding":{"x":{"field":"d","type":"quantitative","scale":{"domain":[-0.0177,0.494],"range":[100.3,525],"nice":false,"zero":false},"axis":{"title":"Distance (km)","values":[0,0.1,0.2,0.3,0.4],"format":".1f","offset":-69.7,"domainWidth":4,"labelFontSize":18,"labelPadding":11,"titleFontSize":16.5,"titleX":296,"titleY":55}},"y":{"field":"v","type":"quantitative","scale":{"domain":[-7.26,0.418],"range":[209.3,13],"nice":false,"zero":false},"axis":{"title":"Depth (m)","values":[-6,-4,-2,0],"format":"d","offset":-100.3,"domainWidth":4,"labelFontSize":18,"labelPadding":14,"titleFontSize":16.5,"titleX":-44.6,"titleY":118}}},
"layer":[{"mark":{"type":"line","stroke":"#8a8a8a","strokeWidth":1.2}},{"mark":{"type":"point","filled":true,"color":"#111","opacity":1,"size":20}}]}
]
}
